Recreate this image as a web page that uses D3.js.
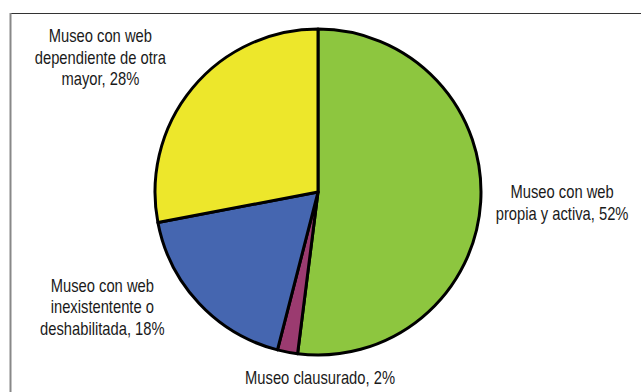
<!DOCTYPE html>
<html>
<head>
<meta charset="utf-8">
<script src="https://cdn.jsdelivr.net/npm/d3@7"></script>
<style>
  body { margin: 0; background: #fff; }
  svg text { font-family: "Liberation Sans", Arial, sans-serif; }
</style>
</head>
<body>
<div id="chart"></div>
<script>
// data, in drawing order (clockwise from 12 o'clock)
const categories = [
    "Museo con web\npropia y activa",
    "Museo clausurado",
    "Museo con web\ninexistentente o\ndeshabilitada",
    "Museo con web\ndependiente de otra\nmayor"
];
const shares = [52, 2, 18, 28];
const sliceColors = ["#8dc63f", "#9b3b70", "#4566b0", "#ede72b"];

// label nudges from the plain radial position (layout only)
const labelNudge = [[2, 0], [35, 13], [-25, -5], [-16, -22]];

const width = 641, height = 392;
const cx = 318, cy = 192, radius = 163;

const svg = d3.select("#chart").append("svg")
    .attr("width", width)
    .attr("height", height);

// chart area frame (runs off the right / bottom of the picture)
svg.append("line")
    .attr("x1", 10.5).attr("x2", width)
    .attr("y1", 13.5).attr("y2", 13.5)
    .attr("stroke", "#333").attr("stroke-width", 1.2);
svg.append("line")
    .attr("x1", 10.5).attr("x2", 10.5)
    .attr("y1", 13).attr("y2", height)
    .attr("stroke", "#888").attr("stroke-width", 2);

const pie = d3.pie().sort(null).value(d => d.value);
const arcs = pie(shares.map((v, i) => ({ value: v, name: categories[i], color: sliceColors[i] })));

const arc = d3.arc().innerRadius(0).outerRadius(radius);

const g = svg.append("g")
    .attr("transform", "translate(" + cx + "," + cy + ")");

g.selectAll("path.slice")
    .data(arcs)
    .enter().append("path")
    .attr("class", "slice")
    .attr("d", arc)
    .attr("fill", d => d.data.color)
    .attr("stroke", "#000")
    .attr("stroke-width", 3)
    .attr("stroke-linejoin", "round");

// labels (narrow face imitated by squeezing the text horizontally)
const fontSize = 18, lineH = 21.5, squeeze = 0.82;
const labelR = radius + 13;

arcs.forEach(function (d, i) {
    let mid = (d.startAngle + d.endAngle) / 2;
    let px = labelR * Math.sin(mid), py = -labelR * Math.cos(mid);
    let lines = (d.data.name + ", " + d.data.value + "%").split("\n");

    let lg = g.append("g");
    let t = lg.append("text")
        .attr("text-anchor", "middle")
        .attr("font-size", fontSize)
        .attr("fill", "#1a1a1a");
    lines.forEach(function (s, k) {
        t.append("tspan")
            .attr("x", 0)
            .attr("y", (k - (lines.length - 1) / 2) * lineH + 6)
            .text(s);
    });

    let w = t.node().getBBox().width * squeeze;
    let side = Math.abs(px) < 40 ? 0 : (px > 0 ? 1 : -1);
    let tx = px + side * w / 2 + labelNudge[i][0];
    let ty = py + labelNudge[i][1];
    lg.attr("transform", "translate(" + tx + "," + ty + ") scale(" + squeeze + ",1)");
});
</script>
</body>
</html>
